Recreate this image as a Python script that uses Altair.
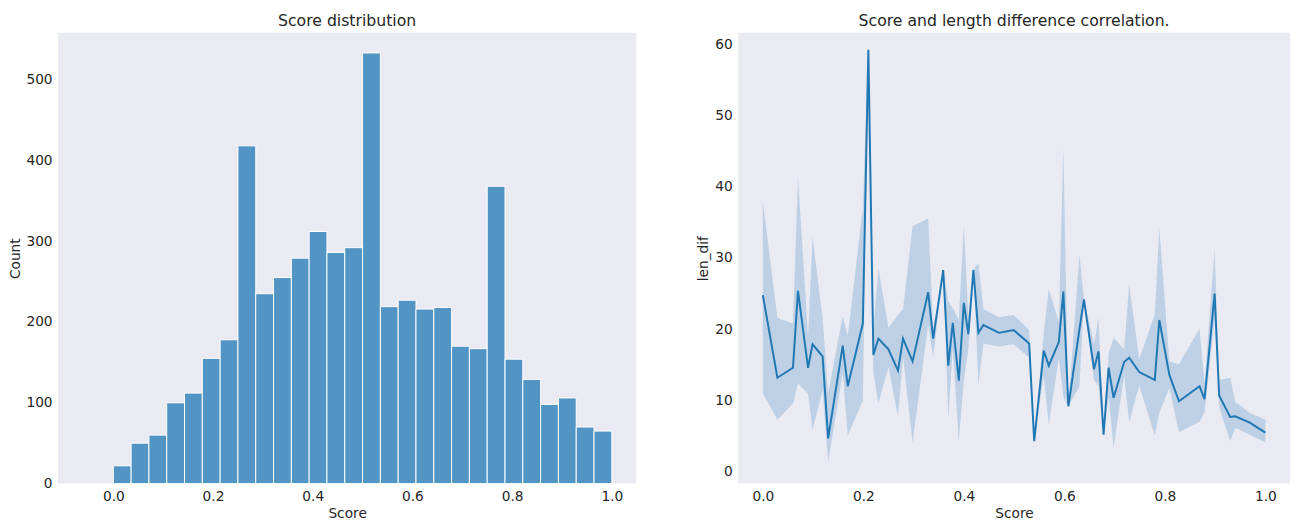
import altair as alt
import pandas as pd

# histogram: 28 equal bins between 0 and 1
counts = [22, 50, 60, 100, 112, 155, 178, 418, 235, 255, 279, 312, 286, 292,
          533, 219, 227, 216, 218, 170, 167, 368, 154, 129, 98, 106, 70, 65]

# line with confidence band
score = [0.0, 0.029, 0.060, 0.070, 0.090, 0.099, 0.119, 0.130, 0.159, 0.169,
         0.199, 0.210, 0.220, 0.230, 0.250, 0.269, 0.279, 0.298, 0.329, 0.339,
         0.359, 0.369, 0.378, 0.390, 0.400, 0.409, 0.419, 0.429, 0.439, 0.470,
         0.499, 0.530, 0.540, 0.559, 0.569, 0.589, 0.598, 0.608, 0.630, 0.639,
         0.659, 0.668, 0.678, 0.688, 0.698, 0.719, 0.729, 0.749, 0.780, 0.789,
         0.809, 0.828, 0.869, 0.879, 0.899, 0.908, 0.930, 0.940, 0.969, 1.0]
len_dif = [24.8, 13.2, 14.6, 25.4, 14.6, 17.9, 16.2, 4.7, 17.7, 12.0,
           20.8, 59.2, 16.4, 18.7, 17.2, 14.2, 18.7, 15.5, 25.2, 18.7,
           28.3, 14.9, 20.9, 12.8, 23.7, 19.3, 28.3, 19.5, 20.6, 19.5,
           19.9, 18.0, 4.3, 17.0, 14.9, 18.2, 25.3, 9.2, 20.0, 24.2,
           14.4, 16.9, 5.2, 14.6, 10.4, 15.4, 16.0, 14.0, 12.9, 21.3,
           13.6, 9.9, 12.0, 10.2, 25.0, 10.7, 7.7, 7.8, 6.9, 5.5]
ci_hi = [38.0, 21.6, 20.8, 41.4, 19.0, 33.0, 21.5, 11.0, 21.9, 19.1,
         37.0, 59.2, 20.0, 28.6, 20.2, 22.0, 22.8, 34.5, 35.5, 20.0,
         28.3, 23.9, 23.0, 21.3, 34.5, 21.7, 28.3, 29.3, 22.8, 21.7,
         22.0, 19.9, 4.3, 19.4, 25.7, 21.0, 45.5, 9.2, 30.5, 24.2,
         17.9, 21.7, 5.2, 16.6, 18.8, 17.2, 26.3, 15.8, 22.1, 34.2,
         15.5, 15.1, 20.1, 12.4, 31.2, 12.9, 13.2, 9.8, 8.3, 7.3]
ci_lo = [11.0, 7.3, 9.6, 12.4, 11.0, 5.9, 11.4, 1.4, 13.8, 5.1,
         10.0, 59.2, 14.0, 9.6, 14.7, 7.7, 16.2, 4.1, 20.6, 16.0,
         28.3, 7.6, 17.3, 4.3, 12.8, 17.2, 28.3, 12.2, 18.0, 17.6,
         17.9, 16.0, 4.3, 13.5, 6.6, 16.0, 10.5, 9.2, 12.0, 24.2,
         12.8, 12.1, 5.2, 10.5, 3.4, 13.5, 7.0, 12.1, 5.1, 8.3,
         11.8, 5.6, 7.0, 8.4, 21.5, 9.1, 4.3, 6.2, 5.2, 4.1]

n = len(counts)
hist = pd.DataFrame({"start": [i / n for i in range(n)],
                     "end": [(i + 1) / n for i in range(n)],
                     "count": counts})
line = pd.DataFrame({"Score": score, "len_dif": len_dif, "hi": ci_hi, "lo": ci_lo})

axis = dict(grid=False, domain=False, ticks=False, labelFontSize=14,
            titleFontSize=14, labelColor="#262626", titleColor="#262626",
            labelPadding=6, titleFontWeight="normal")

left = alt.Chart(hist).mark_bar(color="#5294c3", stroke="white", strokeWidth=1).encode(
    x=alt.X("start:Q", title="Score", scale=alt.Scale(domain=[-0.111, 1.049], nice=False, zero=False),
            axis=alt.Axis(values=[0, 0.2, 0.4, 0.6, 0.8, 1.0], format=".1f", **axis)),
    x2="end:Q",
    y=alt.Y("count:Q", title="Count", scale=alt.Scale(domain=[0, 558], nice=False),
            axis=alt.Axis(values=[0, 100, 200, 300, 400, 500], **axis)),
    y2=alt.datum(0),
).properties(width=590, height=460, title="Score distribution")

xs = alt.X("Score:Q", title="Score", scale=alt.Scale(domain=[-0.049, 1.049], nice=False, zero=False),
           axis=alt.Axis(values=[0, 0.2, 0.4, 0.6, 0.8, 1.0], format=".1f", **axis))
ys = alt.Scale(domain=[-1.65, 61.6], nice=False, zero=False)
band = alt.Chart(line).mark_area(color="#1f77b4", opacity=0.22).encode(
    x=xs, y=alt.Y("lo:Q", scale=ys), y2="hi:Q")
ln = alt.Chart(line).mark_line(color="#1f77b4", strokeWidth=2).encode(
    x=xs, y=alt.Y("len_dif:Q", title="len_dif", scale=ys,
                  axis=alt.Axis(values=[0, 10, 20, 30, 40, 50, 60], **axis)))
right = alt.layer(band, ln).properties(width=563, height=460,
                                        title="Score and length difference correlation.")

chart = alt.hconcat(left, right, spacing=62).configure(
    font="DejaVu Sans", padding=0, background="white"
).configure_view(
    fill="#eaeaf2", stroke=None
).configure_title(fontSize=16, fontWeight="normal", color="#262626", offset=4)

chart.save("out.html", embed_options={"renderer": "svg", "actions": False})
